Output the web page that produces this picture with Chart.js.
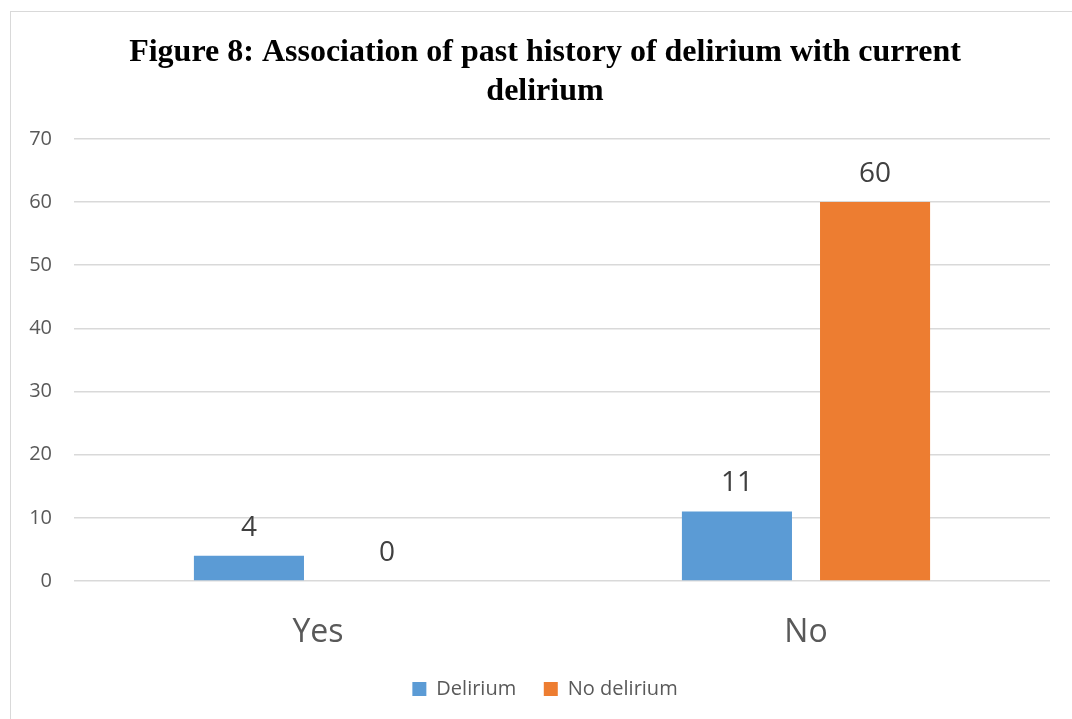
<!DOCTYPE html>
<html>
<head>
<meta charset="utf-8">
<script src="https://cdn.jsdelivr.net/npm/chart.js@4/dist/chart.umd.min.js"></script>
<style>
html,body{margin:0;padding:0;background:#fff;}
#wrap{position:relative;width:1072px;height:719px;overflow:hidden;}
#frame{position:absolute;left:10px;top:11px;width:1100px;height:800px;border:1px solid #D9D9D9;box-sizing:border-box;}
canvas{position:absolute;left:0;top:0;}
</style>
</head>
<body>
<div id="wrap">
<div id="frame"></div>
<canvas id="c" width="1092" height="719"></canvas>
</div>
<script>
const titleLines = ["Figure 8: Association of past history of delirium with current", "delirium"];
const categories = ["Yes", "No"];
const deliriumValues = [4, 11];
const noDeliriumValues = [0, 60];
const seriesNames = ["Delirium", "No delirium"];
const yTicks = [0, 10, 20, 30, 40, 50, 60, 70];

const SANS = "'Open Sans', 'Noto Sans', sans-serif";

const valueLabels = {
  id: 'valueLabels',
  afterDatasetsDraw(chart) {
    const ctx = chart.ctx;
    ctx.save();
    ctx.font = "28px " + SANS;
    ctx.fillStyle = '#404040';
    ctx.textAlign = 'center';
    ctx.textBaseline = 'middle';
    chart.data.datasets.forEach((ds, i) => {
      const meta = chart.getDatasetMeta(i);
      meta.data.forEach((bar, j) => {
        ctx.fillText(String(ds.data[j]), bar.x, bar.y - 28);
      });
    });
    ctx.restore();
  }
};

new Chart(document.getElementById('c'), {
  type: 'bar',
  data: {
    labels: categories,
    datasets: [
      { label: seriesNames[0], data: deliriumValues, backgroundColor: '#5B9BD5', categoryPercentage: 0.566, barPercentage: 0.797 },
      { label: seriesNames[1], data: noDeliriumValues, backgroundColor: '#ED7D31', categoryPercentage: 0.566, barPercentage: 0.797 }
    ]
  },
  options: {
    responsive: false,
    animation: false,
    devicePixelRatio: 1,
    layout: { padding: { left: 10, right: 12, top: 34, bottom: 10 } },
    plugins: {
      title: {
        display: true,
        text: titleLines,
        color: '#000',
        font: { family: "'Liberation Serif', 'Times New Roman', serif", size: 32, weight: 'bold', lineHeight: 1.2 },
        padding: { top: 0, bottom: 28 }
      },
      legend: {
        position: 'bottom',
        labels: {
          color: '#595959',
          font: { family: SANS, size: 20 },
          boxWidth: 14,
          boxHeight: 14,
          padding: 12,
          generateLabels(chart) {
            const items = Chart.defaults.plugins.legend.labels.generateLabels(chart);
            items.forEach((it, k) => { if (k < items.length - 1) it.text = it.text + '   '; });
            return items;
          }
        }
      },
      tooltip: { enabled: false }
    },
    scales: {
      x: {
        afterFit(s) { s.height = 86; },
        grid: { display: false },
        border: { display: false },
        ticks: { color: '#595959', font: { family: SANS, size: 32, lineHeight: 1.2 }, padding: 25 }
      },
      y: {
        min: 0,
        max: 70,
        afterFit(s) { s.width = 64; },
        afterBuildTicks(s) { s.ticks = yTicks.map(v => ({ value: v })); },
        grid: { color: '#D9D9D9', lineWidth: 1.5, drawTicks: false },
        border: { display: false },
        ticks: { color: '#595959', font: { family: SANS, size: 20 }, padding: 22 }
      },
      yPad: {
        position: 'right',
        display: true,
        afterFit(s) { s.width = 30; },
        grid: { display: false },
        border: { display: false },
        ticks: { display: false }
      }
    }
  },
  plugins: [valueLabels]
});
</script>
</body>
</html>
